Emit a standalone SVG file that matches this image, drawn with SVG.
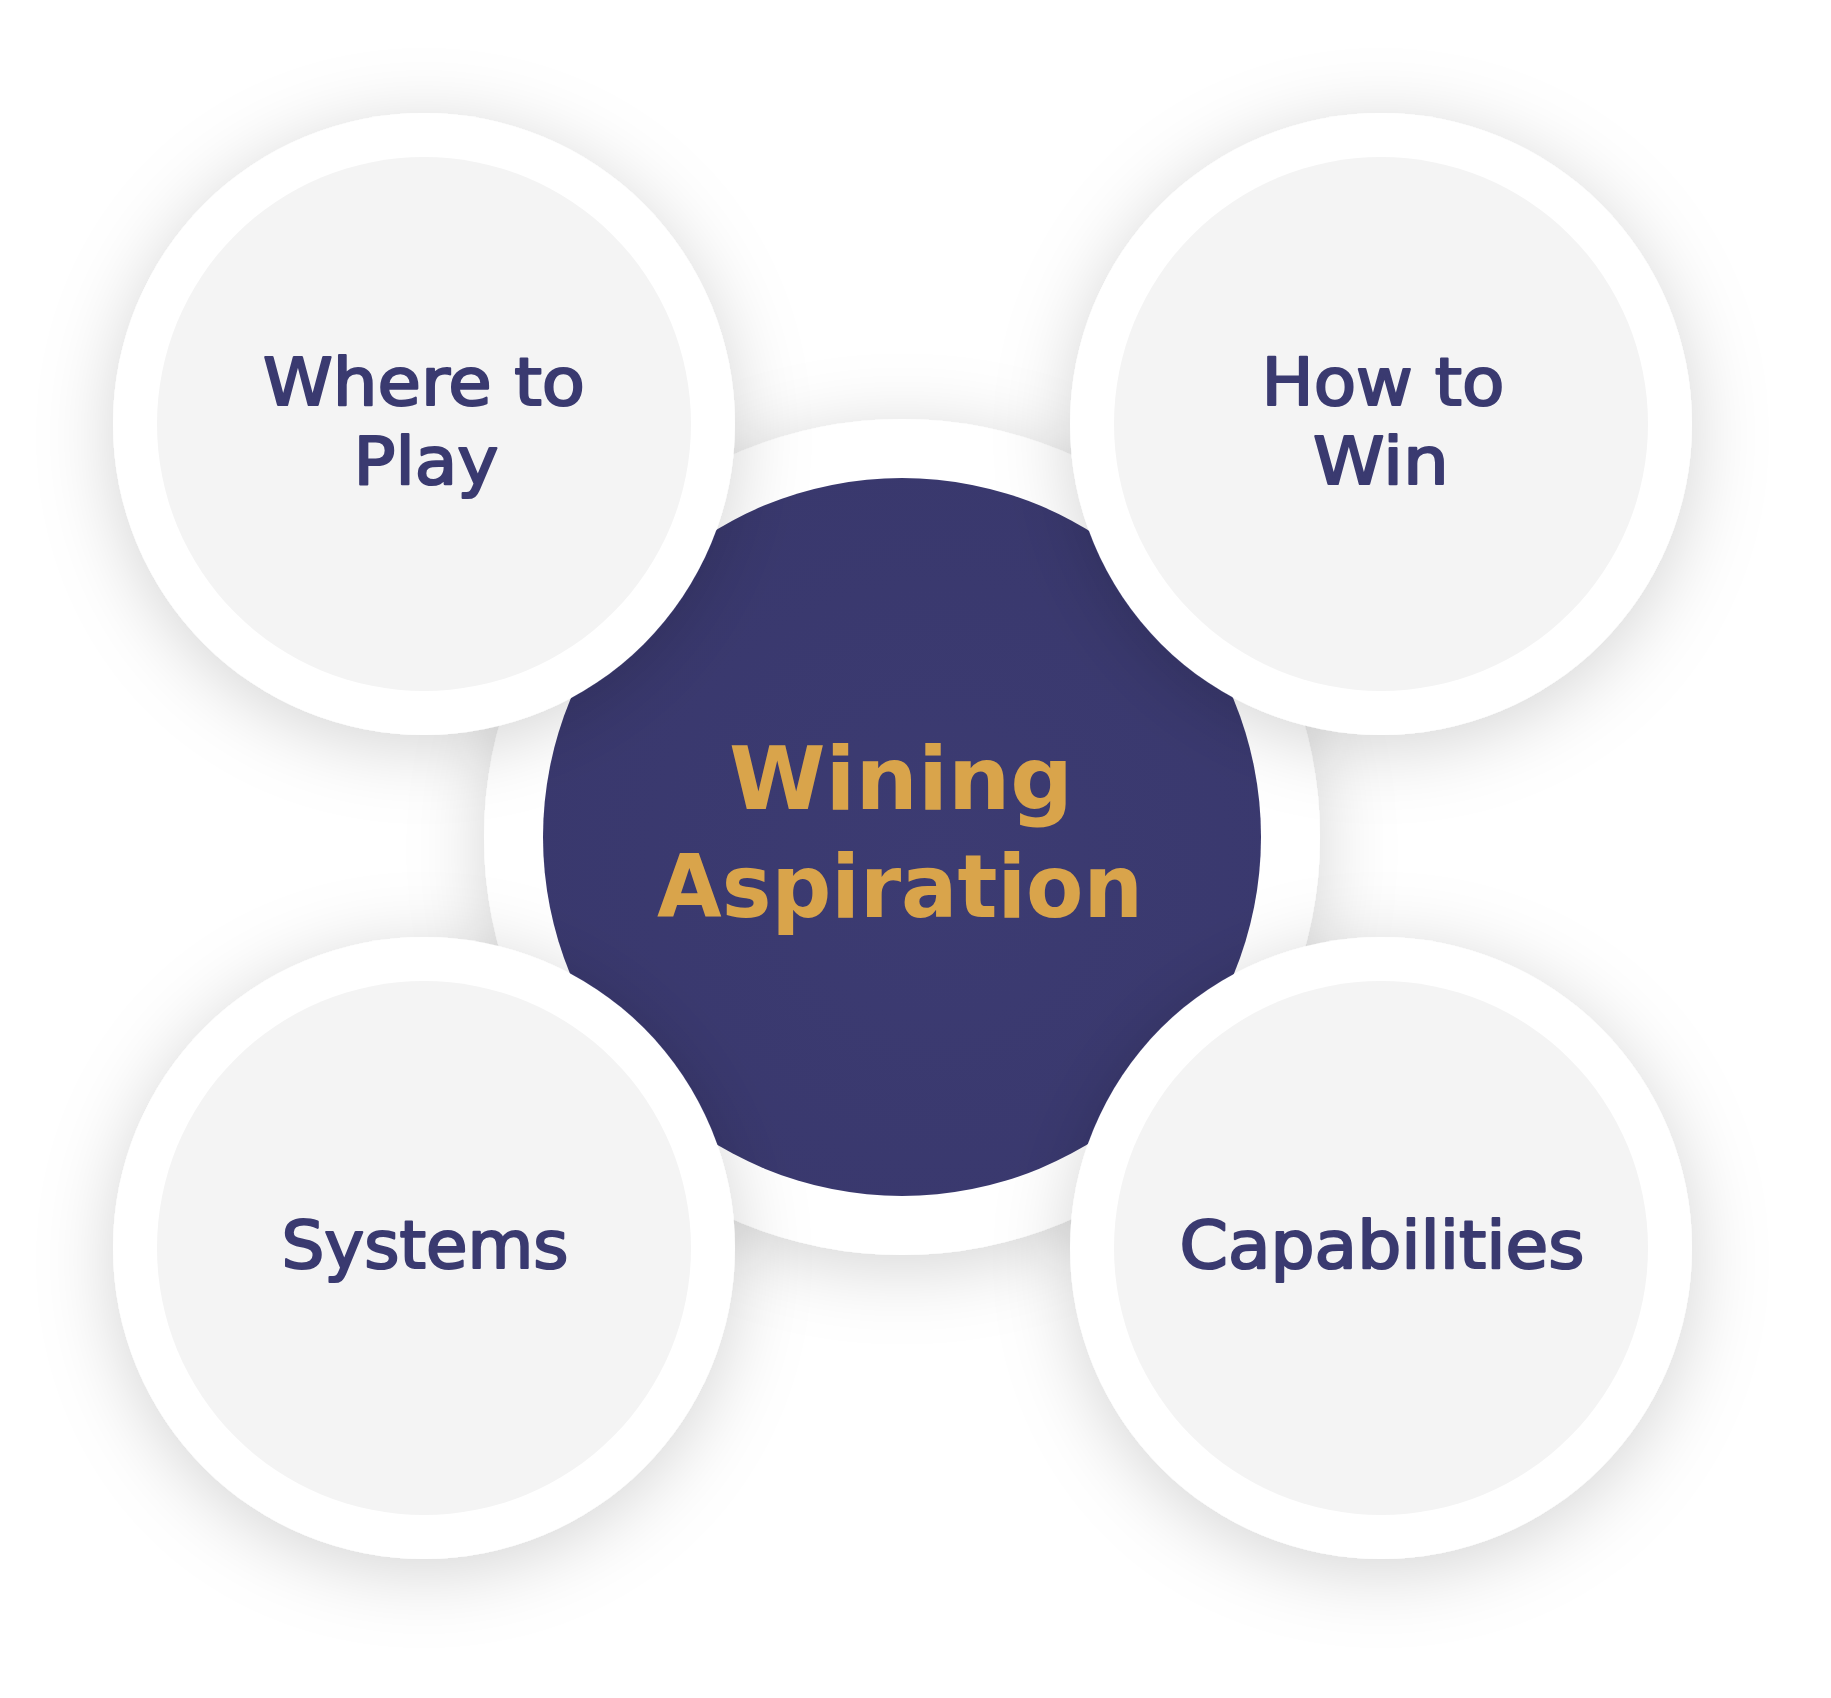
<svg xmlns="http://www.w3.org/2000/svg" width="1831" height="1698" viewBox="0 0 1831 1698">
  <style>
    .ring { fill: #ffffff; filter: url(#shadow); }
    .inner { fill: #f4f4f4; }
    .label { font-family: "DejaVu Sans", "Liberation Sans", sans-serif; font-size: 66px; fill: #3a3a70; stroke: #3a3a70; stroke-width: 2.2px; stroke-linejoin: round; text-anchor: middle; }
    .center-label { font-family: "DejaVu Sans", "Liberation Sans", sans-serif; font-size: 88px; font-weight: bold; fill: #d9a44b; text-anchor: middle; }
  </style>
  <defs>
    <filter id="shadow" x="-35%" y="-35%" width="170%" height="170%">
      <feDropShadow dx="0" dy="12" stdDeviation="38" flood-color="#000000" flood-opacity="0.17"/>
    </filter>
    <radialGradient id="navy" cx="0.55" cy="0.55" r="0.6">
      <stop offset="0" stop-color="#3c3b72"/>
      <stop offset="1" stop-color="#39386d"/>
    </radialGradient>
  </defs>
  <rect width="1831" height="1698" fill="#ffffff"/>

  <g id="center">
    <circle class="ring" cx="902" cy="837" r="418"/>
    <circle cx="902" cy="837" r="359" fill="url(#navy)"/>
  </g>

  <g id="where-to-play">
    <circle class="ring" cx="424" cy="424" r="311"/>
    <circle class="inner" cx="424" cy="424" r="267"/>
    <text class="label" x="424" y="405" textLength="322" lengthAdjust="spacingAndGlyphs">Where to</text>
    <text class="label" x="426" y="484" textLength="145" lengthAdjust="spacingAndGlyphs">Play</text>
  </g>

  <g id="how-to-win">
    <circle class="ring" cx="1381" cy="424" r="311"/>
    <circle class="inner" cx="1381" cy="424" r="267"/>
    <text class="label" x="1383" y="405" textLength="243" lengthAdjust="spacingAndGlyphs">How to</text>
    <text class="label" x="1381" y="484" textLength="136" lengthAdjust="spacingAndGlyphs">Win</text>
  </g>

  <g id="systems">
    <circle class="ring" cx="424" cy="1248" r="311"/>
    <circle class="inner" cx="424" cy="1248" r="267"/>
    <text class="label" x="425" y="1268" textLength="287" lengthAdjust="spacingAndGlyphs">Systems</text>
  </g>

  <g id="capabilities">
    <circle class="ring" cx="1381" cy="1248" r="311"/>
    <circle class="inner" cx="1381" cy="1248" r="267"/>
    <text class="label" x="1382" y="1268" textLength="405" lengthAdjust="spacingAndGlyphs">Capabilities</text>
  </g>

  <g id="center-label">
    <text class="center-label" x="901" y="809" textLength="344" lengthAdjust="spacingAndGlyphs">Wining</text>
    <text class="center-label" x="900" y="917" textLength="486" lengthAdjust="spacingAndGlyphs">Aspiration</text>
  </g>

  <g id="connectors"></g>
</svg>
